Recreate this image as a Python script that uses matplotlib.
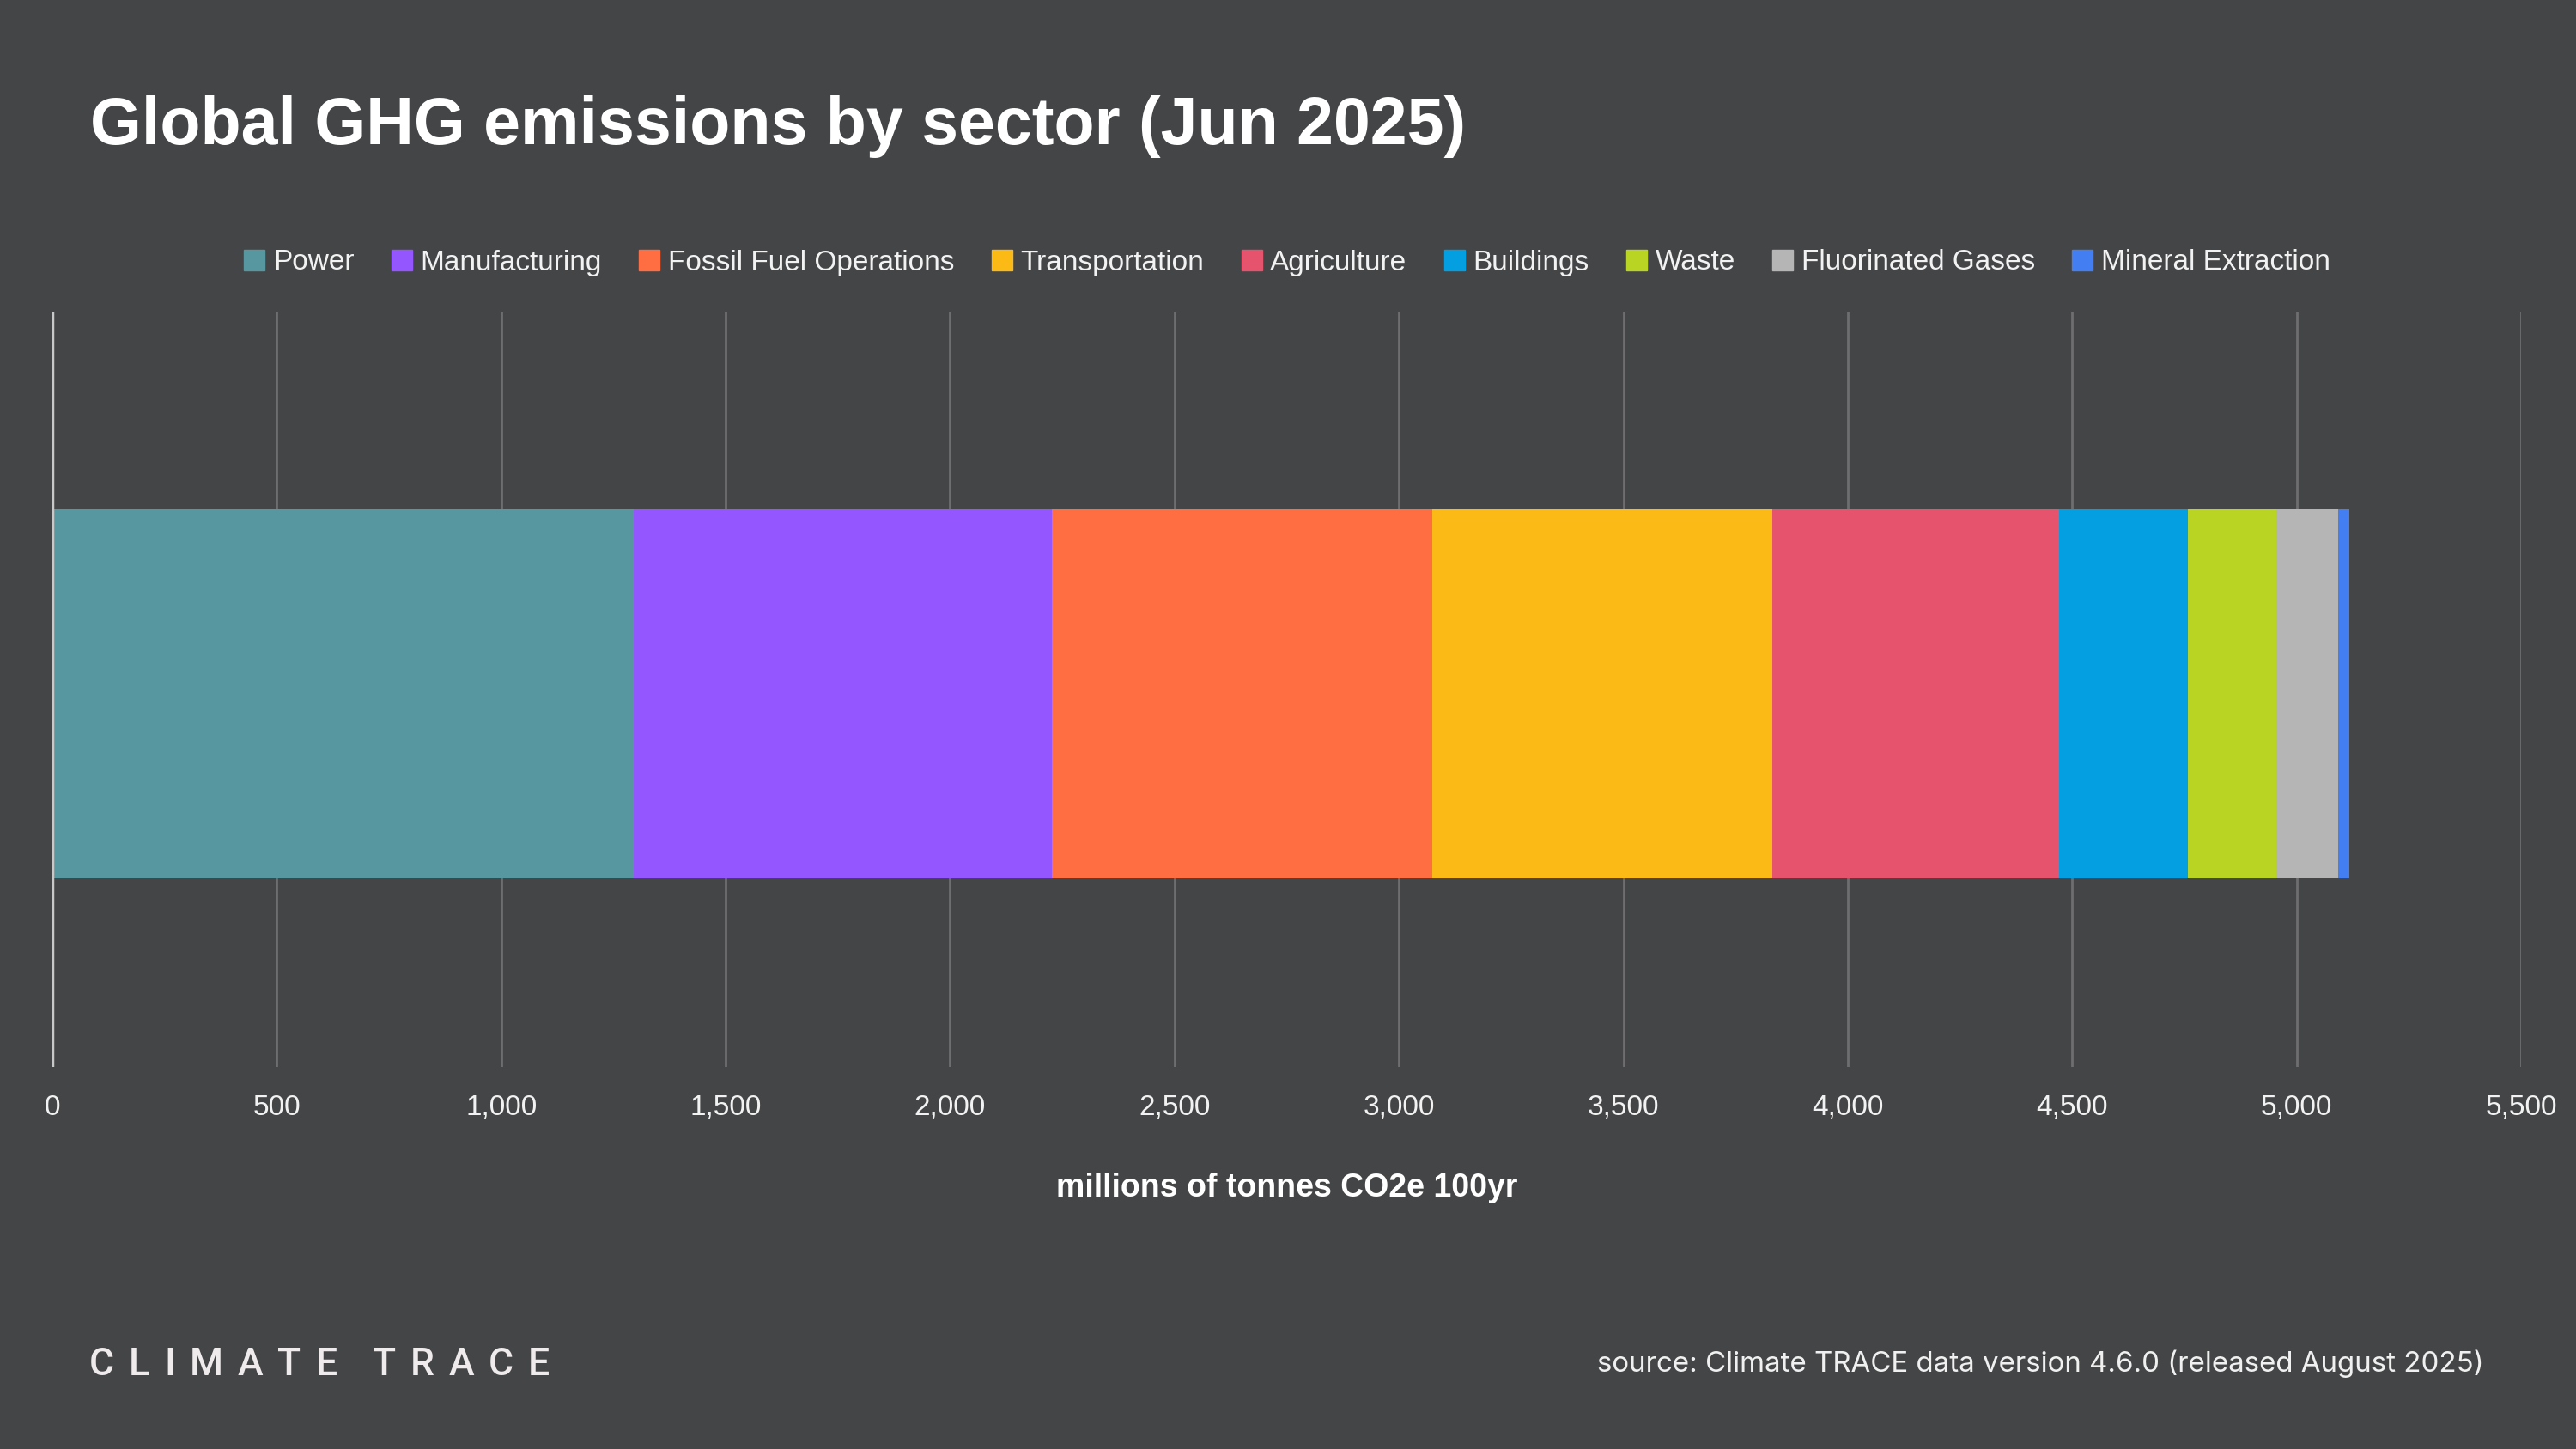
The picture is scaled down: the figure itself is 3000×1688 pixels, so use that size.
import matplotlib
matplotlib.use("Agg")
import matplotlib.pyplot as plt
from matplotlib.lines import Line2D
from matplotlib.ticker import FuncFormatter

# ---- data ----
sectors = ["Power", "Manufacturing", "Fossil Fuel Operations", "Transportation",
           "Agriculture", "Buildings", "Waste", "Fluorinated Gases", "Mineral Extraction"]
values = [1295, 931, 848, 757, 639, 287, 197, 139, 25]
colors = ["#5797A0", "#9457FF", "#FF6D42", "#FCBA16", "#E6536D",
          "#049FE1", "#BAD424", "#B6B5B6", "#437FF2"]
xticks = [0, 500, 1000, 1500, 2000, 2500, 3000, 3500, 4000, 4500, 5000, 5500]

title = "Global GHG emissions by sector (Jun 2025)"
xlabel = "millions of tonnes CO2e 100yr"
source = "source: Climate TRACE data version 4.6.0 (released August 2025)"
brand = "CLIMATE TRACE"

BG = "#444547"
TXT = "#FFFFFF"

W, H = 3000, 1688
fig = plt.figure(figsize=(W / 100, H / 100), dpi=100, facecolor=BG)

ax_l, ax_r, ax_t, ax_b = 61, 2936, 363, 1243
ax = fig.add_axes([ax_l / W, 1 - ax_b / H, (ax_r - ax_l) / W, (ax_b - ax_t) / H])
ax.set_facecolor(BG)

left = 0
for name, v, c in zip(sectors, values, colors):
    ax.barh(0, v, left=left, height=0.966, color=c, edgecolor="none", zorder=3, label=name)
    left += v

ax.set_xlim(0, 5500)
ax.set_ylim(-0.9775, 1.0)
ax.set_yticks([])
ax.set_xticks(xticks)
ax.xaxis.set_major_formatter(FuncFormatter(lambda x, p: f"{int(x):,}"))
ax.tick_params(axis="x", length=0, pad=23, labelsize=24, labelcolor="#F2F2F2")
for lab in ax.get_xticklabels():
    lab.set_fontfamily("Liberation Sans")
ax.grid(axis="x", color="#6E6E70", linewidth=2.0, zorder=0)
ax.axvline(0, color="#C8C8C8", linewidth=2.5, zorder=4)
for s in ax.spines.values():
    s.set_visible(False)

ax.set_xlabel(xlabel, fontsize=27, fontweight="bold", color=TXT,
              family="Liberation Sans", labelpad=43)

# legend
handles = [Line2D([0], [0], marker="s", linestyle="none", markersize=17,
                  markerfacecolor=c, markeredgecolor=c) for c in colors]
fig.legend(handles, sectors, loc="center", ncol=len(sectors),
           bbox_to_anchor=((ax_l + ax_r) / 2 / W, 1 - 306 / H),
           frameon=False, handletextpad=0.25, columnspacing=1.26, handlelength=0.8,
           prop={"family": "Liberation Sans", "size": 24}, labelcolor="#F2F2F2")

fig.text(105 / W, 1 - 168 / H, title, fontsize=55.5, fontweight="bold", color=TXT,
         family="Liberation Sans", va="baseline", ha="left")

# brand wordmark with wide tracking
fig.canvas.draw()
renderer = fig.canvas.get_renderer()
x = 104
base_y = 1 - 1602 / H
for ch in brand:
    if ch == " ":
        x += 24
        continue
    t = fig.text(x / W, base_y, ch, fontsize=32, fontweight="medium", color="#EFEBEC",
                 family="Roboto", va="baseline", ha="left")
    bb = t.get_window_extent(renderer)
    x += bb.width + 17

fig.text(2893 / W, 1 - 1589 / H, source, fontsize=23.8, color="#F0F0F0",
         family="Inter", va="center", ha="right")

fig.savefig("out.png", dpi=100, facecolor=BG)
